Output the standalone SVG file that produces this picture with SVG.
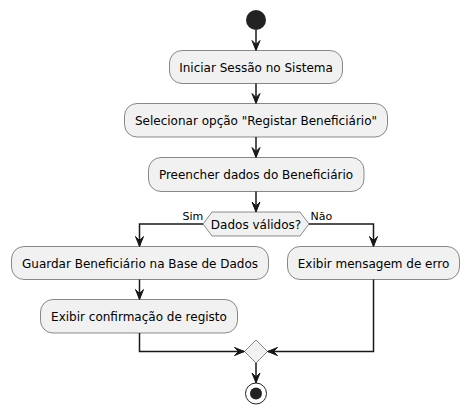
<svg xmlns="http://www.w3.org/2000/svg" width="469" height="415" viewBox="0 0 469 415">
<style>
.box{fill:#F1F1F1;stroke:#181818;stroke-width:0.5}
.t{font-family:"DejaVu Sans",sans-serif;font-size:12px;fill:#000;text-anchor:middle}
.l{font-family:"DejaVu Sans",sans-serif;font-size:11px;fill:#000}
.c{fill:none;stroke:#181818;stroke-width:1.5}
.ah{fill:#181818;stroke:#181818;stroke-width:1}
</style>
<rect width="469" height="415" fill="#FFFFFF"/>
<g id="start"><circle cx="256" cy="20" r="10" fill="#222222"/></g>
<g id="n1"><rect class="box" x="169.5" y="50.5" width="173" height="33" rx="12.5"/><text class="t" x="256" y="71.5">Iniciar Sessão no Sistema</text></g>
<g id="n2"><rect class="box" x="124.5" y="103.5" width="263" height="33.5" rx="12.5"/><text class="t" x="256" y="124.5">Selecionar opção "Registar Beneficiário"</text></g>
<g id="n3"><rect class="box" x="148.5" y="157.5" width="215.5" height="34" rx="12.5"/><text class="t" x="256" y="178.5">Preencher dados do Beneficiário</text></g>
<g id="d1"><polygon class="box" points="203,224 212,212 300,212 309,224 300,236 212,236"/><text class="t" x="256" y="228.5">Dados válidos?</text></g>
<g id="n4"><rect class="box" x="11.5" y="246.5" width="257" height="33" rx="12.5"/><text class="t" x="140" y="267.5">Guardar Beneficiário na Base de Dados</text></g>
<g id="n5"><rect class="box" x="287.5" y="246.5" width="172" height="33" rx="12.5"/><text class="t" x="373.5" y="267.5">Exibir mensagem de erro</text></g>
<g id="n6"><rect class="box" x="40.5" y="299.5" width="197" height="33.5" rx="12.5"/><text class="t" x="139" y="320.5">Exibir confirmação de registo</text></g>
<g id="merge"><polygon class="box" points="256,340 267.5,351.5 256,363 244.5,351.5"/></g>
<g id="end"><circle cx="256" cy="393.5" r="10.5" fill="none" stroke="#222222" stroke-width="1"/><circle cx="256" cy="393.5" r="6" fill="#222222"/></g>
<g id="connectors">
<path class="c" d="M256,30 V50"/>
<polygon class="ah" points="252,40.5 256,50.5 260,40.5 256,44.5"/>
<path class="c" d="M256,83.5 V103"/>
<polygon class="ah" points="252,93.5 256,103.5 260,93.5 256,97.5"/>
<path class="c" d="M256,137 V157"/>
<polygon class="ah" points="252,147.5 256,157.5 260,147.5 256,151.5"/>
<path class="c" d="M256,191.5 V211.5"/>
<polygon class="ah" points="252,202 256,212 260,202 256,206"/>
<path class="c" d="M203,224 H139.5 V246"/>
<polygon class="ah" points="135.5,236.5 139.5,246.5 143.5,236.5 139.5,240.5"/>
<path class="c" d="M309,224 H373.5 V246"/>
<polygon class="ah" points="369.5,236.5 373.5,246.5 377.5,236.5 373.5,240.5"/>
<path class="c" d="M139.5,279.5 V299"/>
<polygon class="ah" points="135.5,289.5 139.5,299.5 143.5,289.5 139.5,293.5"/>
<path class="c" d="M139.5,333 V351.5 H244"/>
<polygon class="ah" points="234.5,347.5 244.5,351.5 234.5,355.5 238.5,351.5"/>
<path class="c" d="M373.5,279.5 V351.5 H268"/>
<polygon class="ah" points="277.5,347.5 267.5,351.5 277.5,355.5 273.5,351.5"/>
<path class="c" d="M256,363 V382.5"/>
<polygon class="ah" points="252,373 256,383 260,373 256,377"/>
<text class="l" x="182.5" y="220">Sim</text>
<text class="l" x="310.5" y="220">Não</text>
</g>
</svg>
